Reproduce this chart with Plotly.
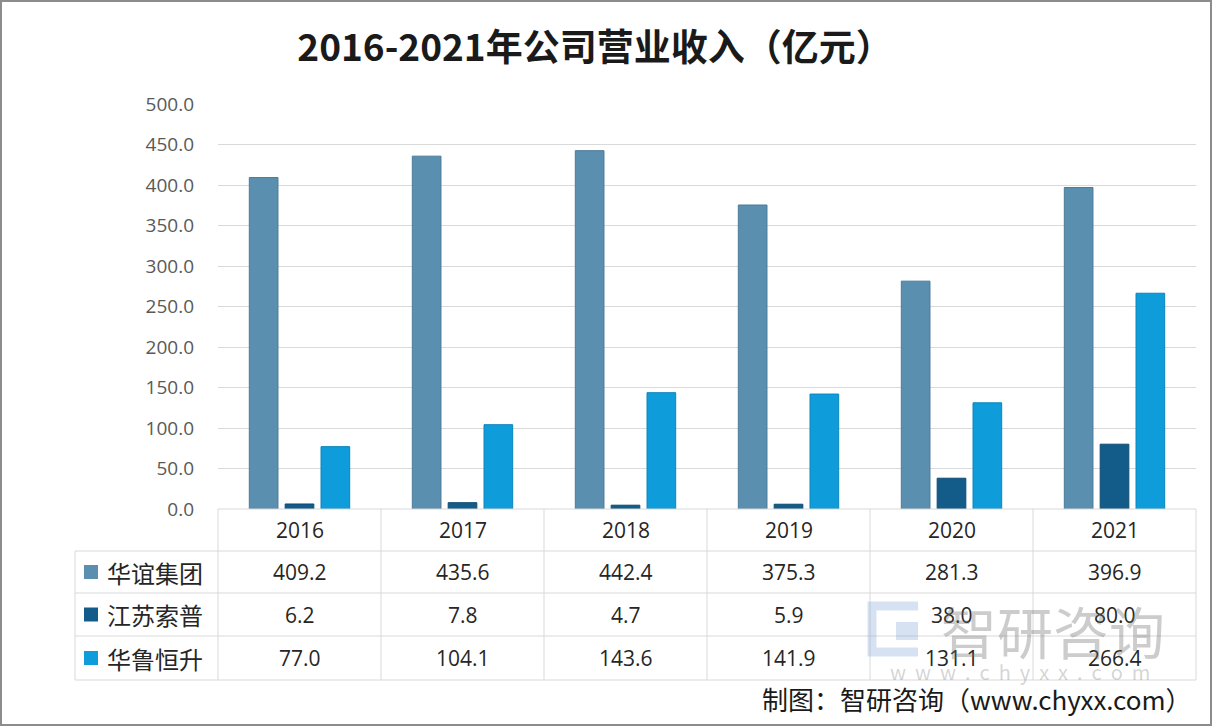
import plotly.graph_objects as go

years = ["2016", "2017", "2018", "2019", "2020", "2021"]
series_names = ["华谊集团", "江苏索普", "华鲁恒升"]
huayi = [409.2, 435.6, 442.4, 375.3, 281.3, 396.9]
jiangsu = [6.2, 7.8, 4.7, 5.9, 38.0, 80.0]
hualu = [77.0, 104.1, 143.6, 141.9, 131.1, 266.4]
y_ticks = [0, 50, 100, 150, 200, 250, 300, 350, 400, 450, 500]

colors = ["#5A8FAF", "#135C8A", "#0E9CDB"]
edges = ["#4A7C99", "#0F4C73", "#0B86BD"]
FONT = "Noto Sans CJK SC"
NUM_FONT = "Open Sans"

W, H = 1212, 726
L, R, T, B = 218, 16, 104, 217
PW, PH = W - L - R, H - T - B
n = len(years)


def px(p):
    # pixel x -> paper x
    return (p - L) / PW


def py(p):
    # pixel y -> paper y
    return (H - B - p) / PH


def cx(i):
    # centre of category i in paper x
    return (i + 0.5) / n


fig = go.Figure()
for name, vals, c, e in zip(series_names, [huayi, jiangsu, hualu], colors, edges):
    fig.add_trace(go.Bar(
        x=list(range(n)), y=vals, name=name,
        marker=dict(color=c, line=dict(color=e, width=1)),
        customdata=years, hovertemplate="%{customdata}<br>" + name + ": %{y}<extra></extra>",
    ))

grid = "#D9D9D9"
row_lines = [509, 551, 593, 636, 680]
left_x = px(75)

shapes = []
# table horizontal lines
shapes.append(dict(type="line", xref="paper", yref="paper", x0=0, x1=1,
                   y0=py(row_lines[0]), y1=py(row_lines[0]), line=dict(color=grid, width=1)))
for r in row_lines[1:]:
    shapes.append(dict(type="line", xref="paper", yref="paper", x0=left_x, x1=1,
                       y0=py(r), y1=py(r), line=dict(color=grid, width=1)))
# table vertical lines
for i in range(n + 1):
    shapes.append(dict(type="line", xref="paper", yref="paper", x0=i / n, x1=i / n,
                       y0=py(row_lines[0]), y1=py(row_lines[-1]), line=dict(color=grid, width=1)))
shapes.append(dict(type="line", xref="paper", yref="paper", x0=left_x, x1=left_x,
                   y0=py(row_lines[1]), y1=py(row_lines[-1]), line=dict(color=grid, width=1)))
# legend keys in the table
for k, c in enumerate(colors):
    yc = py((row_lines[k + 1] + row_lines[k + 2]) / 2)
    shapes.append(dict(type="rect", xref="paper", yref="paper",
                       xsizemode="pixel", ysizemode="pixel",
                       xanchor=px(91), yanchor=yc, x0=-7, x1=7, y0=-7, y1=7,
                       fillcolor=c, line=dict(width=0)))
# faint logo of the watermark
shapes.append(dict(type="path", xref="paper", yref="paper",
                   path=(f"M {px(918)},{py(606)} L {px(872)},{py(606)} L {px(872)},{py(652)} "
                         f"L {px(918)},{py(652)}"),
                   line=dict(color="rgba(120,160,210,0.30)", width=9)))
shapes.append(dict(type="rect", xref="paper", yref="paper",
                   x0=px(896), x1=px(918), y0=py(640), y1=py(622),
                   fillcolor="rgba(120,160,210,0.30)", line=dict(width=0)))
# outer frame of the picture
shapes.append(dict(type="rect", xref="paper", yref="paper",
                   x0=px(1), x1=px(W - 1), y0=py(H - 1), y1=py(1),
                   line=dict(color="#8C8C8C", width=2), layer="below"))

annotations = []
cell_font = dict(size=21, color="#262626", family=NUM_FONT)
for i, yr in enumerate(years):
    annotations.append(dict(x=cx(i), xref="paper", y=py((row_lines[0] + row_lines[1]) / 2), yref="paper",
                            xanchor="center", yanchor="middle",
                            text=yr, showarrow=False, font=cell_font))
for k, (name, vals) in enumerate(zip(series_names, [huayi, jiangsu, hualu])):
    yc = py((row_lines[k + 1] + row_lines[k + 2]) / 2)
    annotations.append(dict(x=px(105), xref="paper", y=yc, yref="paper",
                            xanchor="left", yanchor="middle",
                            text=name, showarrow=False, font=dict(size=24, color="#262626", family=FONT)))
    for i, v in enumerate(vals):
        annotations.append(dict(x=cx(i), xref="paper", y=yc, yref="paper",
                                xanchor="center", yanchor="middle",
                                text=f"{v:.1f}", showarrow=False, font=cell_font))

# watermark
annotations.append(dict(x=px(1053), xref="paper", y=py(629), yref="paper",
                        xanchor="center", yanchor="middle",
                        text="智研咨询", showarrow=False,
                        font=dict(size=56, color="rgba(110,110,110,0.35)", family=FONT)))
annotations.append(dict(x=px(1020), xref="paper", y=py(671), yref="paper",
                        xanchor="center", yanchor="middle",
                        text="w  w  w  .  c  h  y  x  x  .  c  o  m", showarrow=False,
                        font=dict(size=20, color="rgba(110,110,110,0.30)", family=FONT)))
# source note
annotations.append(dict(x=px(1194), xref="paper", y=py(698), yref="paper",
                        xanchor="right", yanchor="middle",
                        text="制图：智研咨询（www.chyxx.com）", showarrow=False,
                        font=dict(size=26, color="#1A1A1A", family=FONT)))

fig.update_layout(
    width=W, height=H,
    margin=dict(l=L, r=R, t=T, b=B, pad=0),
    paper_bgcolor="white", plot_bgcolor="white",
    title=dict(text="<b>2016-2021年公司营业收入（亿元）</b>",
               xref="container", x=595 / W, xanchor="center",
               yref="container", y=1 - 48 / H, yanchor="middle",
               font=dict(size=37, color="#1A1A1A", family=FONT)),
    showlegend=False,
    barmode="group", bargap=0.34, bargroupgap=0.2,
    shapes=shapes, annotations=annotations,
)
fig.update_xaxes(showticklabels=False, showgrid=False, showline=False, zeroline=False,
                 range=[-0.5, n - 0.5])
fig.update_yaxes(range=[0, 500], tickvals=y_ticks, tickformat=".1f",
                 showgrid=True, gridcolor=grid, gridwidth=1, zeroline=False, showline=False,
                 ticks="", ticklabelstandoff=23,
                 tickfont=dict(size=19, color="#595959", family=NUM_FONT))

fig.write_html("out.html", config={"displayModeBar": False},
               post_script="document.body.style.margin='0';")
